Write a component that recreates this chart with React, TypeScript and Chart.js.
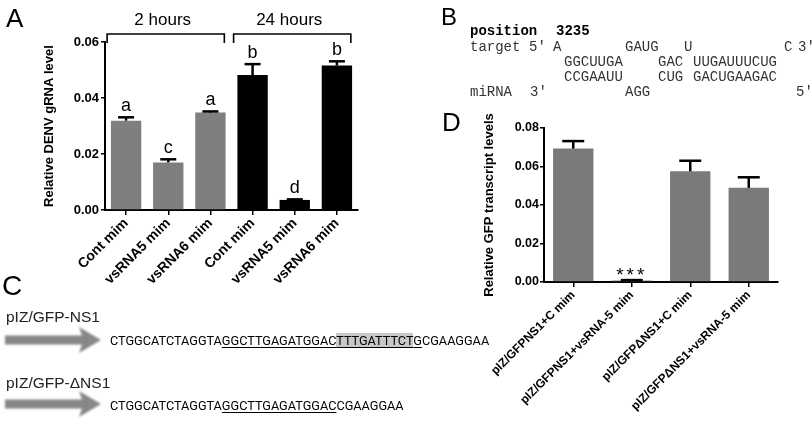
import React, { useEffect, useRef } from "react";
import { Chart, registerables } from "chart.js";

Chart.register(...registerables);

// ---------- Panel A data ----------
const A_CATEGORIES = ["Cont mim", "vsRNA5 mim", "vsRNA6 mim", "Cont mim", "vsRNA5 mim", "vsRNA6 mim"];
const A_VALUES = [0.0319, 0.0170, 0.0348, 0.0482, 0.0036, 0.0516];
const A_ERRORS = [0.0012, 0.0011, 0.0004, 0.0039, 0.0002, 0.0015];
const A_LETTERS = ["a", "c", "a", "b", "d", "b"];
const A_GROUPS = ["2 hours", "24 hours"];
const A_GROUP_OF = [0, 0, 0, 1, 1, 1];
const A_TICKS = [0, 0.02, 0.04, 0.06];

// ---------- Panel D data ----------
const D_CATEGORIES = [
  "pIZ/GFPNS1+C mim",
  "pIZ/GFPNS1+vsRNA-5 mim",
  "pIZ/GFP\u0394NS1+C mim",
  "pIZ/GFP\u0394NS1+vsRNA-5 mim",
];
const D_VALUES = [0.0693, 0.0008, 0.0575, 0.0489];
const D_ERRORS = [0.0039, 0.0002, 0.0055, 0.0055];
const D_MARKS = ["", "***", "", ""];
const D_TICKS = [0, 0.02, 0.04, 0.06, 0.08];

const SANS = "'Liberation Sans', Arial, sans-serif";
const MONO = "'Liberation Mono', 'Courier New', monospace";

function makeErrPlugin(
  errors: number[],
  marks: string[],
  cap: number,
  font: string,
  gap: number,
  spacing: string
) {
  return {
    id: "errbars",
    afterDatasetsDraw(chart: any) {
      const { ctx } = chart;
      const y = chart.scales.y;
      const meta = chart.getDatasetMeta(0);
      const data = chart.data.datasets[0].data as number[];
      ctx.save();
      meta.data.forEach((bar: any, i: number) => {
        const top = y.getPixelForValue(data[i] + errors[i]);
        ctx.strokeStyle = "#000";
        ctx.lineWidth = 2.5;
        ctx.beginPath();
        ctx.moveTo(bar.x, bar.y);
        ctx.lineTo(bar.x, top);
        ctx.stroke();
        ctx.beginPath();
        ctx.moveTo(bar.x - cap, top);
        ctx.lineTo(bar.x + cap, top);
        ctx.stroke();
        if (marks[i]) {
          ctx.font = font;
          ctx.fillStyle = "#000";
          ctx.textAlign = "center";
          ctx.textBaseline = "alphabetic";
          try {
            (ctx as any).letterSpacing = spacing;
          } catch (e) {}
          ctx.fillText(marks[i], bar.x, top - gap);
          try {
            (ctx as any).letterSpacing = "0px";
          } catch (e) {}
        }
      });
      ctx.restore();
    },
  };
}

const bracketPlugin = {
  id: "brackets",
  afterDraw(chart: any) {
    const { ctx } = chart;
    const x = chart.scales.x;
    ctx.save();
    A_GROUPS.forEach((g, gi) => {
      const idx = A_GROUP_OF.map((v, i) => (v === gi ? i : -1)).filter((i) => i >= 0);
      const first = idx[0];
      const last = idx[idx.length - 1];
      const x1 = x.getPixelForValue(first - 0.45);
      const x2 = x.getPixelForValue(last + 0.33);
      const yTop = 34;
      const yTip = 43;
      ctx.strokeStyle = "#000";
      ctx.lineWidth = 1.6;
      ctx.beginPath();
      ctx.moveTo(x1, yTip);
      ctx.lineTo(x1, yTop);
      ctx.lineTo(x2, yTop);
      ctx.lineTo(x2, yTip);
      ctx.stroke();
      ctx.font = `17px ${SANS}`;
      ctx.fillStyle = "#000";
      ctx.textAlign = "center";
      ctx.textBaseline = "alphabetic";
      ctx.fillText(g, (x1 + x2) / 2 - 3, 25);
    });
    ctx.restore();
  },
};

function tickFont(size: number) {
  return { color: "#000", font: { family: SANS, size, weight: "bold" as const } };
}

function ChartA() {
  const ref = useRef<HTMLCanvasElement>(null);
  useEffect(() => {
    const chart = new Chart(ref.current!, {
      type: "bar",
      data: {
        labels: A_CATEGORIES,
        datasets: [
          {
            data: A_VALUES,
            backgroundColor: A_GROUP_OF.map((g) => (g === 0 ? "#7f7f7f" : "#000000")),
            borderWidth: 0,
            barPercentage: 0.72,
            categoryPercentage: 1,
          },
        ],
      },
      options: {
        animation: false,
        responsive: false,
        maintainAspectRatio: false,
        devicePixelRatio: 1,
        layout: { padding: { top: 42, right: 42, left: 0, bottom: 0 } },
        plugins: { legend: { display: false }, tooltip: { enabled: false } },
        scales: {
          x: {
            offset: true,
            grid: { offset: false, drawOnChartArea: false, drawTicks: true, tickLength: 5, color: "#000", lineWidth: 1.5 },
            border: { display: true, color: "#000", width: 2 },
            ticks: {
              ...tickFont(14),
              autoSkip: false,
              minRotation: 45,
              maxRotation: 45,
              padding: 0,
            },
            afterFit: (s: any) => {
              s.height = 90;
            },
          },
          y: {
            min: 0,
            max: 0.06,
            afterBuildTicks: (s: any) => {
              s.ticks = A_TICKS.map((v) => ({ value: v }));
            },
            grid: { drawOnChartArea: false, drawTicks: true, tickLength: 4, color: "#000", lineWidth: 1.5 },
            border: { display: true, color: "#000", width: 2 },
            ticks: {
              ...tickFont(13),
              padding: 2,
              callback: (v: any) => Number(v).toFixed(2),
            },
            title: {
              display: true,
              text: "Relative DENV gRNA level",
              color: "#000",
              font: { family: SANS, size: 13, weight: "bold" },
              padding: { top: 42, bottom: 0 },
            },
            afterFit: (s: any) => {
              s.width = 105;
            },
          },
        },
      },
      plugins: [makeErrPlugin(A_ERRORS, A_LETTERS, 8, `18px ${SANS}`, 6, "0px"), bracketPlugin],
    } as any);
    return () => chart.destroy();
  }, []);
  return (
    <canvas
      ref={ref}
      width={400}
      height={300}
      style={{ position: "absolute", left: 0, top: 0, width: 400, height: 300 }}
    />
  );
}

function ChartD() {
  const ref = useRef<HTMLCanvasElement>(null);
  useEffect(() => {
    const chart = new Chart(ref.current!, {
      type: "bar",
      data: {
        labels: D_CATEGORIES,
        datasets: [
          {
            data: D_VALUES,
            backgroundColor: "#7a7a7a",
            borderWidth: 0,
            barPercentage: 0.69,
            categoryPercentage: 1,
          },
        ],
      },
      options: {
        animation: false,
        responsive: false,
        maintainAspectRatio: false,
        devicePixelRatio: 1,
        layout: { padding: { top: 38, right: 34, left: 0, bottom: 0 } },
        plugins: { legend: { display: false }, tooltip: { enabled: false } },
        scales: {
          x: {
            offset: true,
            grid: { offset: false, drawOnChartArea: false, drawTicks: true, tickLength: 5, color: "#000", lineWidth: 1.5 },
            border: { display: true, color: "#000", width: 2 },
            ticks: {
              ...tickFont(12),
              autoSkip: false,
              minRotation: 45,
              maxRotation: 45,
              padding: 1,
            },
            afterFit: (s: any) => {
              s.height = 150;
            },
          },
          y: {
            min: 0,
            max: 0.08,
            afterBuildTicks: (s: any) => {
              s.ticks = D_TICKS.map((v) => ({ value: v }));
            },
            grid: { drawOnChartArea: false, drawTicks: true, tickLength: 4, color: "#000", lineWidth: 1.5 },
            border: { display: true, color: "#000", width: 2 },
            ticks: {
              ...tickFont(12.5),
              padding: 1,
              callback: (v: any) => Number(v).toFixed(2),
            },
            title: {
              display: true,
              text: "Relative GFP transcript levels",
              color: "#000",
              font: { family: SANS, size: 13, weight: "bold" },
              padding: { top: 82, bottom: 0 },
            },
            afterFit: (s: any) => {
              s.width = 144;
            },
          },
        },
      },
      plugins: [makeErrPlugin(D_ERRORS, D_MARKS, 11, `19px ${SANS}`, -1, "3px")],
    } as any);
    return () => chart.destroy();
  }, []);
  return (
    <canvas
      ref={ref}
      width={412}
      height={342}
      style={{ position: "absolute", left: 400, top: 90, width: 412, height: 342 }}
    />
  );
}

function Arrow({ cy }: { cy: number }) {
  return (
    <polygon
      points={`5,${cy - 4.5} 82,${cy - 4.5} 79,${cy - 13} 101,${cy} 79,${cy + 13} 82,${cy + 4.5} 5,${cy + 4.5}`}
      fill="#878787"
      filter="url(#soft)"
    />
  );
}

const seqStyle: React.CSSProperties = {
  position: "absolute",
  left: 110,
  fontFamily: "Roboto, 'Liberation Sans', sans-serif",
  fontSize: 12.7,
  lineHeight: "15px",
  whiteSpace: "pre",
  color: "#000",
};
const ul: React.CSSProperties = { textDecoration: "underline", textUnderlineOffset: 2 };

export default function App() {
  useEffect(() => {
    document.body.style.margin = "0";
  }, []);
  return (
    <div
      style={{
        position: "fixed",
        left: 0,
        top: 0,
        width: 812,
        height: 432,
        background: "#fff",
        overflow: "hidden",
      }}
    >
      <ChartA />
      <ChartD />
      <svg
        width={812}
        height={432}
        style={{ position: "absolute", left: 0, top: 0, pointerEvents: "none" }}
      >
        <defs>
          <filter id="soft" x="-10%" y="-50%" width="120%" height="200%">
            <feGaussianBlur stdDeviation="0.8" />
          </filter>
        </defs>
        {/* Panel labels */}
        <text x={6} y={27} fontFamily={SANS} fontSize={26}>A</text>
        <text x={441} y={25} fontFamily={SANS} fontSize={24}>B</text>
        <text x={2} y={295} fontFamily={SANS} fontSize={28}>C</text>
        <text x={442} y={131} fontFamily={SANS} fontSize={26}>D</text>

        {/* Panel B */}
        <g fontFamily={MONO} fontSize={14} fill="#333">
          <text x={470} y={35} fontWeight="bold" fill="#000">position</text>
          <text x={556} y={35} fontWeight="bold" fill="#000">3235</text>
          <text x={470} y={51}>target</text>
          <text x={529} y={51}>5'</text>
          <text x={553} y={51}>A</text>
          <text x={625} y={51}>GAUG</text>
          <text x={684} y={51}>U</text>
          <text x={784} y={51}>C</text>
          <text x={798} y={51}>3'</text>
          <text x={564} y={66}>GGCUUGA</text>
          <text x={658} y={66}>GAC</text>
          <text x={693} y={66}>UUGAUUUCUG</text>
          <text x={564} y={81}>CCGAAUU</text>
          <text x={658} y={81}>CUG</text>
          <text x={693} y={81}>GACUGAAGAC</text>
          <text x={470} y={96}>miRNA</text>
          <text x={530} y={96}>3'</text>
          <text x={625} y={96}>AGG</text>
          <text x={796} y={96}>5'</text>
        </g>

        {/* Panel C */}
        <text x={6} y={322} fontFamily={SANS} fontSize={15.5} fill="#222">pIZ/GFP-NS1</text>
        <text x={6} y={388} fontFamily={SANS} fontSize={15.5} fill="#222">pIZ/GFP-{"\u0394"}NS1</text>
        <Arrow cy={340} />
        <Arrow cy={404} />
      </svg>
      <div style={{ ...seqStyle, top: 333 }}>
        CTGGCATCTAGGTA<span style={ul}>GGCTTGAGATGGAC</span>
        <span style={{ ...ul, background: "#c8c8c8" }}>TTTGATTTCT</span>
        <span style={ul}>G</span>CGAAGGAA
      </div>
      <div style={{ ...seqStyle, top: 398 }}>
        CTGGCATCTAGGTA<span style={ul}>GGCTTGAGATGGAC</span>CGAAGGAA
      </div>
    </div>
  );
}
